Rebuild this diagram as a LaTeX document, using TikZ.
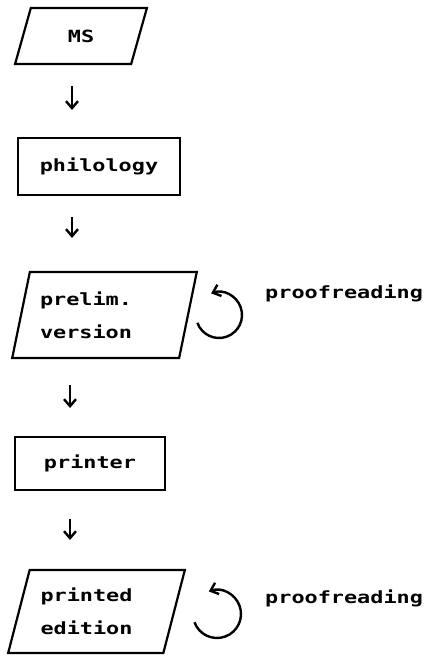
\documentclass[tikz,border=0pt]{standalone}
\usepackage{fontspec}
\newfontfamily\typefont[FakeStretch=1.3]{DejaVu Sans Mono}
\usetikzlibrary{shapes.geometric, arrows.meta, positioning}

\begin{document}
\begin{tikzpicture}[
    x=1pt, y=1pt,
    font=\typefont\bfseries\fontsize{16.8}{33}\selectfont,
    doc/.style={trapezium, trapezium stretches=true, trapezium left angle=72, trapezium right angle=108, draw, line width=2.2pt, inner xsep=0pt, inner ysep=0pt, align=left},
    stage/.style={rectangle, draw, line width=2.2pt},
    flow/.style={-{Straight Barb[length=7pt, width=12pt]}, line width=2.4pt},
    redo/.style={-{Straight Barb[length=7pt, width=12pt]}, line width=2.4pt},
    note/.style={anchor=west, inner sep=0pt}
]
    \useasboundingbox (0,0) rectangle (427,663);

    % main column
    \node[doc, minimum width=132pt, minimum height=56pt] (ms) at (81,627) {MS};
    \node[stage, minimum width=162pt, minimum height=57pt] (phil) at (99,496.5) {philology};
    \node[doc, minimum width=185pt, minimum height=86pt, text width=129pt] (prelim) at (104.5,348) {prelim.\\version};
    \node[stage, minimum width=150pt, minimum height=53pt] (printer) at (90,199.5) {printer};
    \node[doc, trapezium left angle=69, trapezium right angle=111, minimum width=177pt, minimum height=83pt, text width=112pt] (edition) at (96.5,51.5) {printed\\edition};

    % short arrows between the stages
    \coordinate (a1s) at (72,577);
    \coordinate (a1e) at (72,553);
    \coordinate (a2s) at (72,446);
    \coordinate (a2e) at (72,425);
    \coordinate (a3s) at (70,278);
    \coordinate (a3e) at (70,255);
    \coordinate (a4s) at (70,144);
    \coordinate (a4e) at (70,123);
    \draw[flow] (a1s) -- (a1e);
    \draw[flow] (a2s) -- (a2e);
    \draw[flow] (a3s) -- (a3e);
    \draw[flow] (a4s) -- (a4e);

    % proofreading loops
    \coordinate (loop1) at (219,348);
    \coordinate (loop2) at (217,49);
    \draw[redo] ([shift={(200:23)}]loop1) arc[start angle=200, end angle=470, radius=23];
    \draw[redo] ([shift={(200:24)}]loop2) arc[start angle=200, end angle=470, radius=24];
    \node[note] (proof1) at (265,370) {proofreading};
    \node[note] (proof2) at (265,65) {proofreading};
\end{tikzpicture}
\end{document}
